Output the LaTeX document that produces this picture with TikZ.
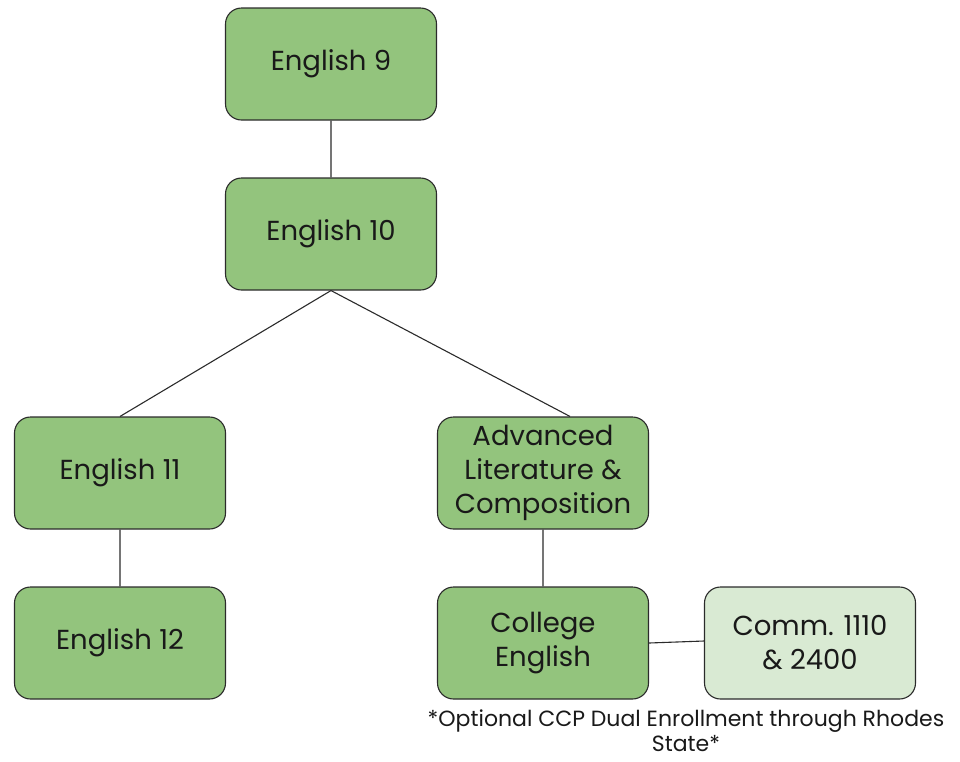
\documentclass[tikz,border=0pt]{standalone}
\usepackage{fontspec}
\setmainfont{Poppins}
\usepackage{tikz}
\usetikzlibrary{positioning}

\definecolor{courseGreen}{HTML}{93C47D}
\definecolor{ccpGreen}{HTML}{D9EAD3}
\definecolor{edgeGray}{HTML}{2B2B2B}

\begin{document}
\begin{tikzpicture}[x=1pt,y=-1pt,on grid,node distance=170pt,
        every node/.style={font=\fontsize{27.5}{34}\selectfont,text=black!90},
        course/.style={draw=edgeGray,fill=courseGreen,line width=1.1pt,rounded corners=16pt,
            minimum width=211pt,minimum height=112pt,align=center},
        ccp/.style={course,fill=ccpGreen},
        link/.style={draw=edgeGray,line width=1.1pt}]
        \useasboundingbox (0,0) rectangle (960,761);

        \node[course] (eng9) at (331,64) {English 9};
        \node[course] (eng10) [below=of eng9] {English 10};
        \node[course] (eng11) [below left=239pt and 211pt of eng10] {English 11};
        \node[course] (adv) [below right=239pt and 212pt of eng10] {Advanced\\Literature \&\\Composition};
        \node[course] (eng12) [below=of eng11] {English 12};
        \node[course] (college) [below=of adv] {College\\English};
        \node[ccp] (comm) [right=267pt of college] {Comm. 1110\\\& 2400};
        \node[font=\fontsize{22}{25}\selectfont,align=center,inner sep=1pt] (note) at (686,731)
            {*Optional CCP Dual Enrollment through Rhodes\\State*};

        \path[link] (eng9) -- (eng10)
                (eng10.south) -- (eng11.north)
                (eng10.south) -- ([xshift=27pt]adv.north)
                (eng11) -- (eng12)
                (adv) -- (college)
                (college.east) -- ([yshift=2pt]comm.west);
    \end{tikzpicture}
\end{document}
